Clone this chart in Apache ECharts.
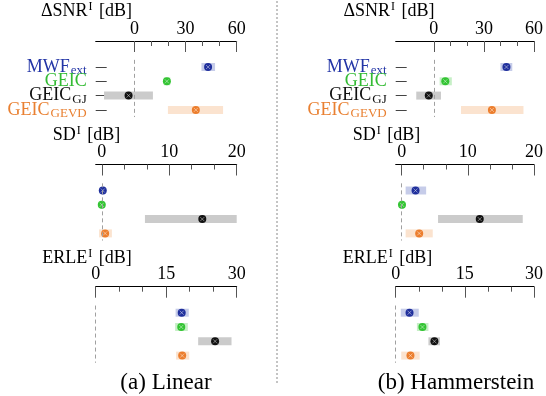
<!DOCTYPE html>
<html><head><meta charset="utf-8">
<script src="https://cdn.jsdelivr.net/npm/echarts@6/dist/echarts.min.js"></script>
<style>html,body{margin:0;padding:0;background:#fff}#c{width:546px;height:396px}</style>
</head><body><div id="c"></div>
<script>
// ---- data ----
const methods = ['MWF', 'GEIC', 'GEIC', 'GEIC'];
const methodSubs = ['ext', '', 'GJ', 'GEVD'];
const rowNames = ['MWF_ext', 'GEIC', 'GEIC_GJ', 'GEIC_GEVD'];

const snrTicks = [0, 30, 60];
const snrMinor = [10, 20, 40, 50];
const sdTicks = [0, 10, 20];
const sdMinor = [3.33, 6.67, 13.33, 16.67];
const erleTicks = [0, 15, 30];
const erleMinor = [5, 10, 20, 25];

// Linear
const snrLinMed = [43.2, 19.0, -3.5, 36.0];
const snrLinLo  = [39.3, 17.2, -17.9, 19.6];
const snrLinHi  = [47.3, 21.0, 10.8, 52.0];
const sdLinMed  = [0.15, 0.0, 14.9, 0.5];
const sdLinLo   = [0.0, -0.2, 6.4, -0.4];
const sdLinHi   = [0.4, 0.2, 20.0, 1.5];
const erleLinMed = [18.3, 18.2, 25.4, 18.4];
const erleLinLo  = [17.0, 16.9, 21.8, 17.1];
const erleLinHi  = [19.8, 19.6, 28.9, 19.9];

// Hammerstein
const snrHamMed = [43.5, 6.9, -3.0, 34.8];
const snrHamLo  = [39.9, 3.5, -10.5, 16.3];
const snrHamHi  = [47.0, 10.8, 4.3, 53.7];
const sdHamMed  = [2.1, 0.05, 11.8, 2.65];
const sdHamLo   = [0.6, -0.2, 5.5, 0.6];
const sdHamHi   = [3.7, 0.3, 18.3, 4.7];
const erleHamMed = [3.0, 5.8, 8.4, 3.2];
const erleHamLo  = [1.1, 4.6, 7.1, 1.2];
const erleHamHi  = [5.0, 7.1, 9.6, 5.2];

// ---- styles ----
const FONT = 'Liberation Serif';
const dotColors = ['#1f2f9c', '#33c433', '#111111', '#ec7d2c'];
const boxColors = ['#c6cce9', '#c6efc6', '#cbcbcb', '#fbe3cf'];
const labelKeys = ['b', 'g', 'k', 'o'];
const labelColors = ['#2234a6', '#33bb33', '#111111', '#e98032'];

const chart = echarts.init(document.getElementById('c'), null, {renderer: 'canvas'});

const AXIS_OFFSET = 18.85;
const GRID_H = 57.2;
const panels = [
  {left: 95.7, width: 141,   axisY: 41,    min: -22.8, max: 60, major: snrTicks,  minor: snrMinor,  rowLabels: true,  med: snrLinMed,  lo: snrLinLo,  hi: snrLinHi},
  {left: 95.7, width: 141,   axisY: 164.5, min: -0.9,  max: 20, major: sdTicks,   minor: sdMinor,   rowLabels: false, med: sdLinMed,   lo: sdLinLo,   hi: sdLinHi},
  {left: 95.7, width: 141,   axisY: 286.7, min: 0,     max: 30, major: erleTicks, minor: erleMinor, rowLabels: false, med: erleLinMed, lo: erleLinLo, hi: erleLinHi},
  {left: 395.7, width: 141.3, axisY: 41,    min: -22.8, max: 60, major: snrTicks,  minor: snrMinor,  rowLabels: true,  med: snrHamMed,  lo: snrHamLo,  hi: snrHamHi},
  {left: 395.7, width: 141.3, axisY: 164.5, min: -0.9,  max: 20, major: sdTicks,   minor: sdMinor,   rowLabels: false, med: sdHamMed,   lo: sdHamLo,   hi: sdHamHi},
  {left: 395.7, width: 141.3, axisY: 286.7, min: 0,     max: 30, major: erleTicks, minor: erleMinor, rowLabels: false, med: erleHamMed, lo: erleHamLo, hi: erleHamHi}
];

const rich = {};
labelKeys.forEach((k, i) => {
  rich[k] = {fontFamily: FONT, fontSize: 18, fontWeight: 'normal', lineHeight: 18, color: labelColors[i]};
  rich[k + 's'] = {fontFamily: FONT, fontSize: 13, fontWeight: 'normal', lineHeight: 12, padding: [7, 0, 0, 1], color: labelColors[i]};
});

const grid = [], xAxis = [], yAxis = [], series = [];
panels.forEach((p, gi) => {
  grid.push({left: p.left, top: p.axisY + AXIS_OFFSET, width: p.width, height: GRID_H, containLabel: false});
  xAxis.push({
    type: 'value', gridIndex: gi, position: 'top', offset: AXIS_OFFSET, min: p.min, max: p.max,
    axisLine: {show: true, onZero: false, lineStyle: {color: '#000', width: 1}},
    axisTick: {show: true, inside: true, length: 11, customValues: p.major, lineStyle: {color: '#555', width: 1}},
    axisLabel: {show: true, customValues: p.major, margin: 3, fontFamily: FONT, fontSize: 18, color: '#000'},
    splitLine: {show: false}
  });
  xAxis.push({
    type: 'value', gridIndex: gi, position: 'top', offset: AXIS_OFFSET, min: p.min, max: p.max,
    axisLine: {show: false, onZero: false},
    axisTick: {show: true, inside: true, length: 5, customValues: p.minor, lineStyle: {color: '#555', width: 1}},
    axisLabel: {show: false},
    splitLine: {show: false}
  });
  yAxis.push({
    type: 'category', gridIndex: gi, inverse: true, data: rowNames, boundaryGap: true,
    axisLine: {show: false, onZero: false},
    axisTick: {show: p.rowLabels, inside: true, length: 11, alignWithLabel: true, interval: 0, lineStyle: {color: '#444', width: 1}},
    axisLabel: {
      show: p.rowLabels, interval: 0, margin: 9,
      formatter: (v, idx) => {
        const k = labelKeys[idx];
        return '{' + k + '|' + methods[idx] + '}' + (methodSubs[idx] ? '{' + k + 's|' + methodSubs[idx] + '}' : '');
      },
      rich: rich
    },
    splitLine: {show: false}
  });
  // zero reference line
  series.push({
    type: 'scatter', xAxisIndex: 2 * gi, yAxisIndex: gi, data: [], z: 0, silent: true,
    markLine: {silent: true, symbol: 'none', label: {show: false}, animation: false,
      lineStyle: {color: '#a0a0a0', type: [4, 3], width: 1},
      data: [{xAxis: 0}]}
  });
  // range boxes
  series.push({
    type: 'custom', xAxisIndex: 2 * gi, yAxisIndex: gi, z: 1, silent: true,
    data: rowNames.map((r, i) => [i, p.lo[i], p.hi[i]]),
    encode: {x: [1, 2], y: 0},
    renderItem: (params, api) => {
      const r = api.value(0);
      const a = api.coord([api.value(1), r]);
      const b = api.coord([api.value(2), r]);
      return {type: 'rect', shape: {x: a[0], y: a[1] - 4, width: Math.max(b[0] - a[0], 1), height: 8},
        style: {fill: boxColors[r]}};
    }
  });
  // medians
  series.push({
    type: 'scatter', xAxisIndex: 2 * gi, yAxisIndex: gi, z: 3, silent: true,
    data: rowNames.map((r, i) => [p.med[i], i]),
    symbol: 'circle', symbolSize: 8,
    itemStyle: {color: prm => dotColors[prm.dataIndex], opacity: 1}
  });
  series.push({
    type: 'scatter', xAxisIndex: 2 * gi, yAxisIndex: gi, z: 4, silent: true,
    data: rowNames.map((r, i) => [p.med[i], i]),
    symbol: 'path://M0,0L10,10M10,0L0,10', symbolSize: 4,
    itemStyle: {color: 'rgba(0,0,0,0)', borderColor: 'rgba(255,255,255,0.55)', borderWidth: 1}
  });
});

const titleRich = {
  a: {fontFamily: FONT, fontSize: 18, fontWeight: 'normal', lineHeight: 20, color: '#000'},
  s: {fontFamily: FONT, fontSize: 12, fontWeight: 'normal', lineHeight: 12, padding: [0, 2, 9, 1], color: '#000'}
};
function mkTitle(main, unit, centerX, top) {
  return {text: '{a|' + main + '}{s|I}{a| ' + unit + '}', left: centerX, textAlign: 'center', top: top, padding: 0,
    textStyle: {fontWeight: 'normal', rich: titleRich}};
}

chart.setOption({
  animation: false,
  backgroundColor: '#fff',
  title: [
    mkTitle('ΔSNR', '[dB]', 86.5, 1),
    mkTitle('SD', '[dB]', 86.5, 125),
    mkTitle('ERLE', '[dB]', 87, 248),
    mkTitle('ΔSNR', '[dB]', 389, 1),
    mkTitle('SD', '[dB]', 386.5, 125),
    mkTitle('ERLE', '[dB]', 387.5, 248)
  ],
  graphic: [
    {type: 'line', shape: {x1: 277, y1: 1, x2: 277, y2: 384}, style: {stroke: '#c4c4c4', lineWidth: 2, lineDash: [2, 2]}},
    {type: 'text', x: 166, y: 383, style: {text: '(a) Linear', font: '23px "Liberation Serif"', fill: '#000', align: 'center', verticalAlign: 'middle'}},
    {type: 'text', x: 456, y: 383, style: {text: '(b) Hammerstein', font: '23px "Liberation Serif"', fill: '#000', align: 'center', verticalAlign: 'middle'}}
  ],
  grid: grid, xAxis: xAxis, yAxis: yAxis, series: series
});
</script></body></html>
